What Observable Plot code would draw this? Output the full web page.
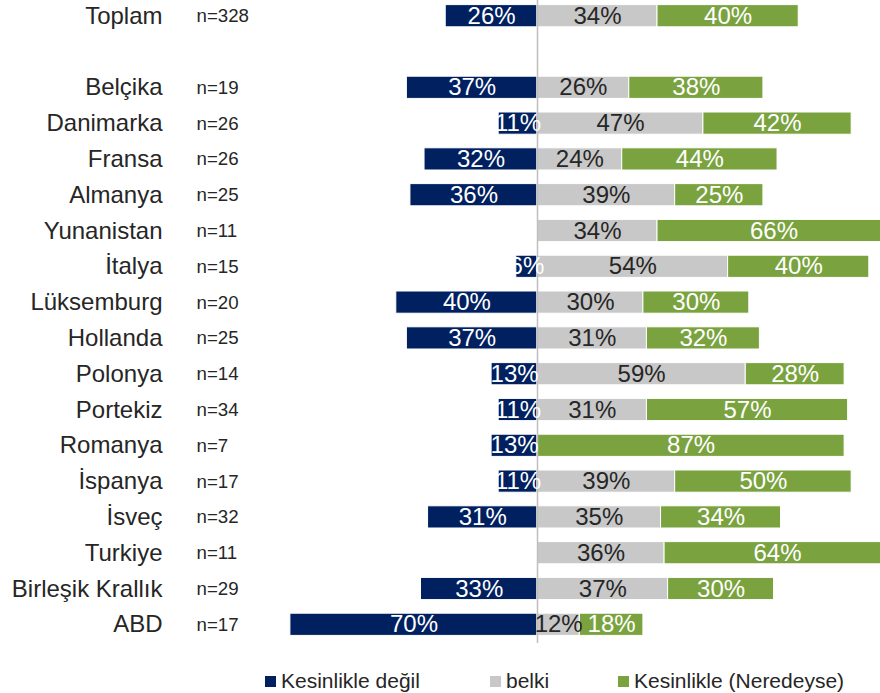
<!DOCTYPE html>
<html><head><meta charset="utf-8">
<script src="https://cdn.jsdelivr.net/npm/d3@7"></script>
<script src="https://cdn.jsdelivr.net/npm/@observablehq/plot@0.6"></script>
<style>
html,body{margin:0;padding:0;background:#fff;overflow:hidden;font-family:"Liberation Sans",Arial,sans-serif}
#legend{position:relative;height:28px;font-size:21px;color:#262626}
.item{position:absolute;top:4px;display:flex;align-items:center;line-height:24px}
.sw{width:11px;height:11px;margin-right:5px}
</style></head><body><div id="chart"></div><div id="legend"></div>
<script>
const countries = ["Toplam","Belçika","Danimarka","Fransa","Almanya","Yunanistan","İtalya","Lüksemburg","Hollanda","Polonya","Portekiz","Romanya","İspanya","İsveç","Turkiye","Birleşik Krallık","ABD"];
const nValues = [328,19,26,26,25,11,15,20,25,14,34,7,17,32,11,29,17];
const kesinlikleDegil = [26,37,11,32,36,0,6,40,37,13,11,13,11,31,0,33,70];
const belki = [34,26,47,24,39,34,54,30,31,59,31,0,39,35,36,37,12];
const kesinlikle = [40,38,42,44,25,66,40,30,32,28,57,87,50,34,64,30,18];
const seriesNames = ["Kesinlikle değil","belki","Kesinlikle (Neredeyse)"];
const colors = ["#002060","#C8C8C8","#7AA33F"];
const labelColors = ["#ffffff","#262626","#ffffff"];

const yDomain = [countries[0], "\u00a0", ...countries.slice(1)];

const segs = [];
countries.forEach((c, i) => {
  const d = kesinlikleDegil[i], b = belki[i], k = kesinlikle[i];
  segs.push({c, s: 0, v: d, x1: -d, x2: 0});
  segs.push({c, s: 1, v: b, x1: 0, x2: b});
  segs.push({c, s: 2, v: k, x1: b, x2: b + k});
});
const labeled = segs.filter(d => d.v > 0);
const nRows = countries.map((c, i) => ({c, n: "n=" + nValues[i]}));

const chart = Plot.plot({
  width: 880,
  height: 665,
  marginTop: 0,
  marginBottom: 22,
  marginLeft: 0,
  marginRight: 0,
  style: {fontFamily: '"Liberation Sans", Arial, sans-serif', background: "#fff", overflow: "visible"},
  x: {domain: [-100, 100], range: [184, 890], axis: null},
  y: {domain: yDomain, range: [-9, 649], padding: 0.38, round: false, axis: null},
  marks: [
    Plot.barX(segs.filter(d => d.v > 0), {x1: "x1", x2: "x2", y: "c", fill: d => colors[d.s], stroke: "#ffffff", strokeWidth: 1}),
    Plot.ruleX([0], {stroke: "#BFBFBF", strokeWidth: 1.5}),
    Plot.text(labeled, {x: d => (d.x1 + d.x2) / 2, y: "c", text: d => d.v + "%", fill: d => labelColors[d.s], fontSize: 24}),
    Plot.text(countries, {y: d => d, text: d => d, frameAnchor: "left", textAnchor: "end", dx: 162, fontSize: 24, fill: "#262626"}),
    Plot.text(nRows, {y: "c", text: "n", frameAnchor: "left", textAnchor: "start", dx: 196, fontSize: 18.7, fill: "#262626"})
  ]
});
document.getElementById("chart").appendChild(chart);

const legendX = [265, 490, 618];
const legend = document.getElementById("legend");
seriesNames.forEach((name, i) => {
  const item = document.createElement("div");
  item.className = "item";
  item.style.left = legendX[i] + "px";
  item.innerHTML = `<span class="sw" style="background:${colors[i]}"></span><span>${name}</span>`;
  legend.appendChild(item);
});
</script>
</body></html>
